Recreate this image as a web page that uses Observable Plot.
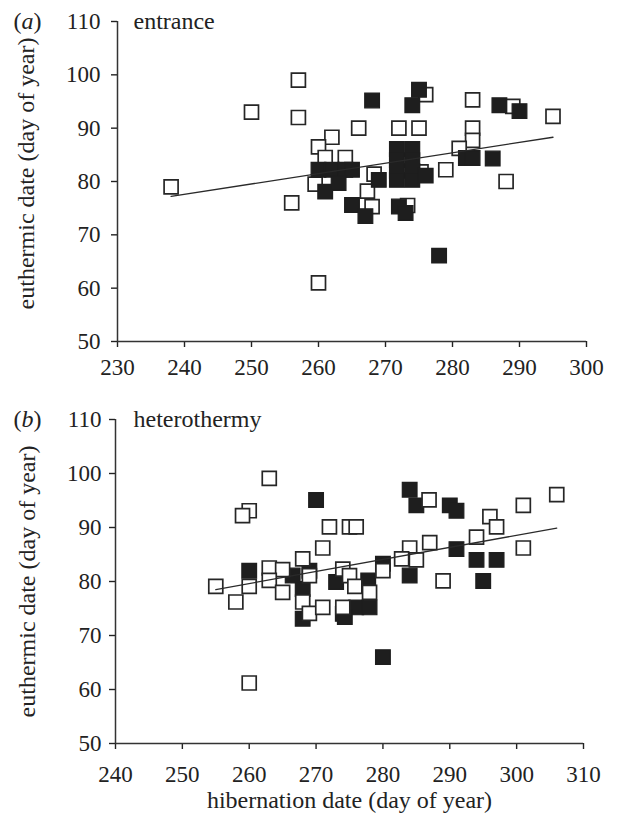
<!DOCTYPE html>
<html><head><meta charset="utf-8">
<script src="https://cdn.jsdelivr.net/npm/d3@7"></script>
<script src="https://cdn.jsdelivr.net/npm/@observablehq/plot@0.6"></script>
<style>
body{margin:0;background:#fff;}
#wrap{position:relative;width:618px;height:816px;background:#fff;}
#wrap svg{position:absolute;left:0;}
#wrap svg text{font-family:'Liberation Serif','Times New Roman',serif !important;}
</style></head><body><div id="wrap"></div>
<script>
// ---- data ----
const yTicks = [50, 60, 70, 80, 90, 100, 110];
const xTicksA = [230, 240, 250, 260, 270, 280, 290, 300];
const xTicksB = [240, 250, 260, 270, 280, 290, 300, 310];

// (a) entrance: [hibernation date, euthermic date]
const entranceOpen = [
  [238,79],[250,93],[257,99],[257,92],[256,76],[260,61],[266,90],[262,88.3],[260,86.5],
  [261,84.5],[264,84.5],[259.5,79.5],[268.3,81.4],[267.3,78.2],[268,75.3],[273.3,75.5],
  [276,96.3],[272,90],[275,90],[283,95.3],[283,90],[283,87.7],[281,86.2],[279,82.2],
  [288,80],[289,94.1],[295,92.2],[275.3,81.8]
];
const entranceFilled = [
  [260,82.2],[262,82.2],[264,82.2],[265,82.2],[261,78.1],[263,79.7],[265,75.6],[267,73.5],
  [268,95.2],[275,97.2],[274,94.3],[271.7,86.1],[274,86.1],[271.7,84],[274,84],[271.7,82],
  [274,82],[271.7,80.3],[274,80.3],[276,81.1],[269,80.3],[272,75.3],[273,74.1],
  [282,84.4],[283,84.4],[286,84.3],[287,94.3],[290,93.2],[278,66.1]
];
const entranceFit = [[238,77.2],[295,88.3]];

// (b) heterothermy
const heteroOpen = [
  [263,99.1],[260,93.1],[259,92.2],[272,90.1],[275,90.1],[276,90.1],[271,86.2],[268,84.2],
  [263,82.5],[265,82.2],[263,80.2],[260,79.1],[255,79.1],[258,76.2],[265,78],[269,81.1],
  [268,76.2],[269,74.1],[271,75.2],[274,75.2],[260,61.2],[274,82.3],[275,81.1],
  [286.9,95.1],[296,92],[297,90.1],[301,94.1],[306,96.1],[301,86.2],[294,88.2],[289,80.1],
  [287,87.2],[284,86.2],[285,84],[282.8,84.2],[280,82],[275.8,79.1],[278,78]
];
const heteroFilled = [
  [270,95.1],[260,82],[266.5,81.1],[269,82],[268,78.6],[268,73.1],[274,74],[276,75.2],
  [278,75.2],[273,79.9],[284,97],[285,94.1],[290,94.1],[291,93.1],[291,86],[294,84],
  [297,84],[295,80.1],[284,81.1],[280,83.3],[280,66],[277.8,80.2],[274.3,73.4]
];
const heteroFit = [[255,78.5],[306,89.9]];

const yLabel = "euthermic date (day of year)";
const xLabel = "hibernation date (day of year)";

// ---- drawing ----
const FONT = "'Liberation Serif', 'Times New Roman', serif";
const toObj = a => a.map(([x, y]) => ({x, y}));

function panel(o) {
  const openMark = Plot.dot(toObj(o.open), {x: "x", y: "y", symbol: "square", r: 7.9, fill: "white", stroke: "#262626", strokeWidth: 1.7});
  const filledMark = Plot.dot(toObj(o.filled), {x: "x", y: "y", symbol: "square", r: 8.3, fill: "#1e1e1e", stroke: "#1e1e1e", strokeWidth: 1.2});
  const pts = o.openOnTop ? [filledMark, openMark] : [openMark, filledMark];
  const txt = {fontFamily: FONT, fontSize: 24, fill: "#222"};
  const marks = [
    Plot.axisX({ticks: o.xTicks, tickSize: 6, tickPadding: o.xPad, label: null, strokeWidth: 1.4, fontFamily: FONT, fontSize: 23}),
    Plot.axisY({ticks: yTicks, tickSize: 6, tickPadding: o.yPad, label: null, strokeWidth: 1.4, fontFamily: FONT, fontSize: 23}),
    Plot.ruleX([o.xTicks[0]], {y1: 50, y2: 110, stroke: "#333", strokeWidth: 1.5}),
    Plot.ruleY([50], {x1: o.xTicks[0], x2: o.xTicks[o.xTicks.length - 1], stroke: "#333", strokeWidth: 1.5}),
    ...pts,
    Plot.line(toObj(o.fit), {x: "x", y: "y", stroke: "#2a2a2a", strokeWidth: 1.3}),
    Plot.text([o.letter], {...txt, frameAnchor: "top-left", textAnchor: "start", lineAnchor: "bottom", dx: 13 - o.ml, dy: o.titleY - o.mt}),
    Plot.text([o.title], {...txt, frameAnchor: "top-left", textAnchor: "start", lineAnchor: "bottom", dx: 133 - o.ml, dy: o.titleY - o.mt}),
    Plot.text([yLabel], {...txt, frameAnchor: "left", rotate: -90, textAnchor: "middle", lineAnchor: "middle", dx: o.yLabelX - o.ml, dy: o.yLabelShift})
  ];
  if (o.xLabel) marks.push(Plot.text([o.xLabel], {...txt, frameAnchor: "bottom", textAnchor: "middle", lineAnchor: "bottom", dy: o.xLabelY - (o.height - o.mb)}));
  const svg = Plot.plot({
    width: 618, height: o.height,
    marginTop: o.mt, marginBottom: o.mb, marginLeft: o.ml, marginRight: o.mr,
    style: {fontFamily: FONT, fontSize: "23px", color: "#222", background: "white", overflow: "visible"},
    x: {domain: [o.xTicks[0], o.xTicks[o.xTicks.length - 1]]},
    y: {domain: [50, 110]},
    marks
  });
  d3.select(svg).attr("font-family", FONT);
  // italicise the panel letter inside its parentheses
  d3.select(svg).selectAll("text").each(function() {
    if (this.textContent === o.letter) {
      const sel = d3.select(this);
      sel.text(null);
      sel.append("tspan").text("(");
      sel.append("tspan").attr("font-style", "italic").text(o.letter.slice(1, -1));
      sel.append("tspan").text(")");
    }
  });
  svg.style.top = o.top + "px";
  return svg;
}

const wrap = document.getElementById("wrap");
wrap.append(panel({
  open: entranceOpen, filled: entranceFilled, fit: entranceFit, xTicks: xTicksA,
  letter: "(a)", title: "entrance", top: 0, height: 400, mt: 21, mb: 59, ml: 117, mr: 32,
  xPad: 11, yPad: 11, titleY: 28, yLabelX: 26, yLabelShift: -8, openOnTop: false
}));
wrap.append(panel({
  open: heteroOpen, filled: heteroFilled, fit: heteroFit, xTicks: xTicksB,
  letter: "(b)", title: "heterothermy", top: 400, height: 416, mt: 19, mb: 73, ml: 115, mr: 35,
  xPad: 16, yPad: 8, titleY: 26, yLabelX: 27, yLabelShift: 0, openOnTop: true, xLabel: xLabel, xLabelY: 407
}));
</script>
</body></html>
